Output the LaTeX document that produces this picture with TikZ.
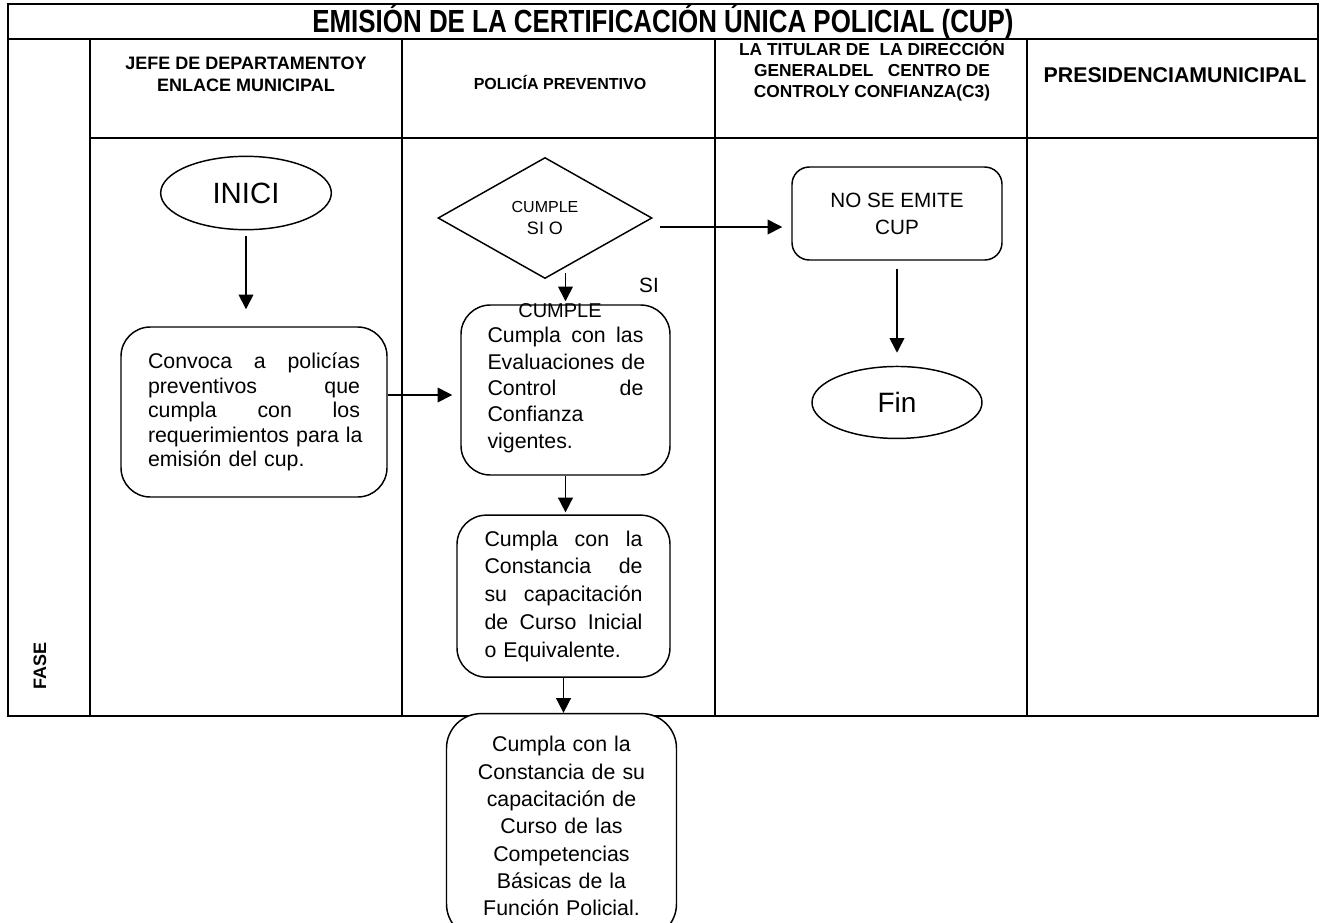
\documentclass[tikz,border=0pt]{standalone}
\usepackage{fontspec}
\setmainfont{Liberation Sans}
\usepackage{tikz}
\usetikzlibrary{
    arrows.meta,
    positioning,
    shapes.geometric
}
\tikzstyle{arrow}=[line width=1.2pt,-{Triangle[width=11pt,length=11pt]}]
\newlength{\anchofila}
\newcommand{\fila}[1]{\hbox to \anchofila{#1}}

\begin{document}
\begin{tikzpicture}[
    x=0.75pt,y=-0.75pt,
    every node/.style={font=\fontsize{16}{19.5}\selectfont},
    paso/.style={
        rectangle,
        rounded corners=22pt,
        draw,
        line width=1.1pt,
        fill=white,
        inner sep=0pt,
        align=left
    },
    terminal/.style={
        ellipse,
        draw,
        line width=1.1pt,
        fill=white,
        inner sep=0pt
    },
    encabezado/.style={
        font=\bfseries\fontsize{12}{15.75}\selectfont,
        align=center
    },
    tabla/.style={line width=0.8pt}
]
\useasboundingbox (0,0) rectangle (1322,922);
\clip (0,0) rectangle (1322,922);

% cuadro de la tabla
\draw[tabla] (8,4) rectangle (1318,716);
\draw[tabla] (8,39) -- (1318,39);
\draw[tabla] (90,138) -- (1318,138);
\foreach \x in {90,402,715,1027}
    \draw[tabla] (\x,39) -- (\x,716);

% encabezados
\node[font=\bfseries\fontsize{24}{26}\selectfont] (titulo) at (663,21.5)
    {\scalebox{0.81}[1]{EMISIÓN DE LA CERTIFICACIÓN ÚNICA POLICIAL (CUP)}};
\node[encabezado,font=\bfseries\fontsize{13.5}{16.5}\selectfont] (jefe) at (246,74)
    {JEFE DE DEPARTAMENTOY\\ENLACE MUNICIPAL};
\node[encabezado] (policia) at (560,82) {POLICÍA PREVENTIVO};
\node[encabezado,font=\bfseries\fontsize{13}{15.75}\selectfont] (titular) at (872,71)
    {LA TITULAR DE\ \ LA DIRECCIÓN\\GENERALDEL\ \ \ CENTRO DE\\CONTROLY CONFIANZA(C3)};
\node[encabezado,font=\bfseries\fontsize{16}{19}\selectfont] (presidencia) at (1175,75)
    {PRESIDENCIAMUNICIPAL};
\node[encabezado,font=\bfseries\fontsize{13.5}{16}\selectfont,rotate=90] (fase) at (40,666) {FASE};

% flujo
\node[terminal,minimum width=128pt,minimum height=55pt,
    font=\fontsize{22}{26}\selectfont] (inici) at (246,193) {INICI};
\node[paso,text width=159pt,minimum width=199.5pt,minimum height=127.5pt,
    font=\fontsize{16}{18.4}\selectfont] (convoca) at (254,412)
    {\setlength{\anchofila}{159pt}%
     \fila{Convoca \hfill a \hfill policías}
     \fila{preventivos \hfill que}
     \fila{cumpla \hfill con \hfill los}
     \fila{requerimientos para la}
     emisión del cup.};
\node[diamond,draw,line width=1.1pt,inner sep=0pt,align=center,
    minimum width=160.5pt,minimum height=90.75pt,
    font=\fontsize{12}{17}\selectfont] (decision) at (545,218)
    {CUMPLE\\{\fontsize{13.5}{17}\selectfont SI O}};
\node[paso,text width=117pt,minimum width=156.75pt,minimum height=127.5pt,
    font=\fontsize{16}{19.7}\selectfont] (eval) at (565.5,390)
    {\setlength{\anchofila}{117pt}%
     \fila{Cumpla \hfill con \hfill las}
     \fila{Evaluaciones \hfill de}
     \fila{Control \hfill de}
     Confianza\\
     vigentes.};
\node[font=\fontsize{15.5}{18}\selectfont] (si) at (649,285) {SI};
\node[font=\fontsize{15}{18}\selectfont] (cumple) at (560,311) {CUMPLE};
\node[paso,text width=118.5pt,minimum width=159.75pt,minimum height=121.5pt,
    font=\fontsize{16}{20.8}\selectfont,below=29pt of eval,xshift=-1.5pt] (inicial)
    {\setlength{\anchofila}{118.5pt}%
     \fila{Cumpla \hfill con \hfill la}
     \fila{Constancia \hfill de}
     \fila{su \hfill capacitación}
     \fila{de \hfill Curso \hfill Inicial}
     o Equivalente.};
\node[paso,align=center,rounded corners=26pt,minimum width=172.5pt,
    minimum height=168.75pt,text width=160pt,
    font=\fontsize{16}{20.5}\selectfont,below=26.25pt of inicial,xshift=-1.5pt] (basicas)
    {Cumpla con la\\Constancia de su\\capacitación de\\Curso de las\\Competencias\\Básicas de la\\Función Policial.};
\node[paso,align=center,rounded corners=13pt,minimum width=157.5pt,
    minimum height=69.75pt,font=\fontsize{15.5}{20.25}\selectfont] (noemite) at (897,213.5)
    {NO SE EMITE\\CUP};
\node[terminal,minimum width=127.5pt,minimum height=54pt,
    font=\fontsize{21}{25}\selectfont,below=78.75pt of noemite] (fin) {Fin};

% flechas
\draw[arrow,shorten <=4pt,shorten >=12.75pt] (inici.south) -- (inici.south |- convoca.north);
\draw[arrow,shorten >=6pt] ([yshift=12.75pt]convoca.east) -- ([yshift=12.75pt]convoca.east -| eval.west);
\draw[arrow,shorten >=2.25pt] ([yshift=4.5pt]decision.south -| eval.north) -- (eval.north);
\draw[arrow,shorten >=6.75pt] ([xshift=5.25pt,yshift=-6.75pt]decision.east) -- ([yshift=-6.75pt]decision.east -| noemite.west);
\draw[arrow,shorten <=6pt,shorten >=9.75pt] (noemite.south) -- (fin.north);
\draw[arrow,shorten >=1.5pt] (eval.south) -- (eval.south |- inicial.north);
\draw[arrow] (inicial.south) -- (inicial.south |- basicas.north);
\end{tikzpicture}
\end{document}
